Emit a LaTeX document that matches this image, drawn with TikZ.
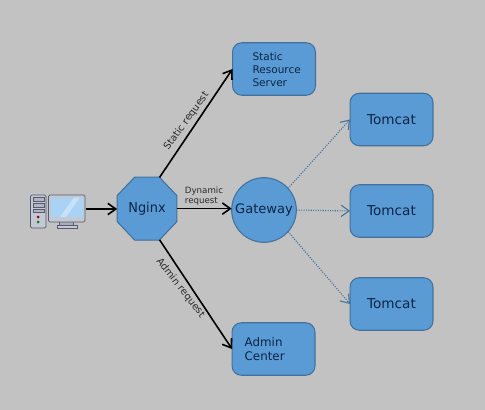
\documentclass[tikz,border=0pt]{standalone}
\usepackage{fontspec}
\setmainfont{DejaVu Sans}
\usetikzlibrary{shapes.geometric,arrows.meta}
\definecolor{bgc}{HTML}{C2C2C2}
\definecolor{fillc}{HTML}{5B9BD5}
\definecolor{edgec}{HTML}{41719C}
\definecolor{inkc}{HTML}{0B2545}
\definecolor{labelc}{HTML}{2A2A2A}
\definecolor{pcline}{HTML}{555A6E}
\definecolor{pcface}{HTML}{C4C8D4}
\definecolor{screenc}{HTML}{A9D3F5}
\tikzset{
  shapebase/.style={draw=edgec,fill=fillc,line width=0.8pt,text=inkc,outer sep=0pt,inner sep=0pt},
  srv/.style={shapebase,rectangle,rounded corners=7pt,minimum width=62.2pt,minimum height=39.4pt},
  tomcatbox/.style={srv,font=\fontsize{10.2}{12}\selectfont},
  octa/.style={shapebase,regular polygon,regular polygon sides=8,minimum size=48.4pt,yscale=1.055,transform shape,font=\fontsize{9.7}{11}\selectfont},
  gate/.style={shapebase,circle,minimum size=48.5pt,font=\fontsize{9.8}{11}\selectfont},
  solidarrow/.style={black,line width=1.2pt,-{Straight Barb[length=6pt,width=8.5pt]}},
  dotarrow/.style={edgec,line width=0.8pt,densely dotted,-{Straight Barb[length=6pt,width=8.5pt]}},
  edgelabel/.style={text=labelc,inner sep=0pt,font=\fontsize{7.4}{9}\selectfont},
  pcpart/.style={draw=pcline,line width=0.6pt,fill=pcface}
}
\begin{document}
\begin{tikzpicture}[x=0.75pt,y=-0.75pt]
\fill[bgc] (0,0) rectangle (485,410);
\useasboundingbox (0,0) rectangle (485,410);

% computer
\draw[pcpart,rounded corners=1pt] (30.5,195) rectangle (46,228);
\foreach \yy in {197.5,203.5,209}{\draw[pcpart,fill=pcline!45] (33,\yy) rectangle (44,\yy+3.5);}
\fill[red!60!black] (38.2,217) circle (1.5);
\fill[green!50!black] (38.2,222) circle (1.5);
\draw[pcpart,fill=pcline!50] (59,221) rectangle (73,225);
\draw[pcpart] (57,225.3) rectangle (77,228);
\draw[pcpart,rounded corners=1pt] (48.5,195) rectangle (85,222);
\fill[screenc] (50.5,197.5) rectangle (83,217);
\fill[white,opacity=.35] (60,217) -- (74,197.5) -- (80,197.5) -- (66,217) -- cycle;
\coordinate (pc) at (85.5,209);

% nodes
\node[octa] (nginx) at (147,208.6) {Nginx};
\node[gate] (gateway) at (264,210) {Gateway\hspace{2pt}};
\node[srv,align=left,text width=62.2pt,font=\fontsize{7.9}{9.4}\selectfont] (static) at (274,69) {\vphantom{l}\\[-8.5pt]\hspace*{15pt}Static\\\hspace*{15pt}Resource\\\hspace*{15pt}Server};
\node[tomcatbox] (tomcatA) at (391.5,119.5) {Tomcat\hspace{2.5pt}};
\node[tomcatbox] (tomcatB) at (391.5,211) {Tomcat\hspace{2.5pt}};
\node[tomcatbox] (tomcatC) at (391.5,304) {Tomcat\hspace{2.5pt}};
\node[srv,align=left,text width=62.2pt,font=\fontsize{8.9}{10.5}\selectfont] (admin) at (273.5,349) {\hspace*{9.5pt}Admin\\\hspace*{9.5pt}Center};

% connectors
\draw[solidarrow] (pc) -- (nginx.west |- pc);
\draw[solidarrow] (nginx.67.5) -- (static.west);
\draw[solidarrow] (nginx.-67.5) -- (admin.west);
\draw[solidarrow] (nginx.east) -- (nginx.east -| gateway.west);
\draw[dotarrow] (gateway.42) -- (tomcatA.west);
\draw[dotarrow] (gateway.east) -- (tomcatB.west);
\draw[dotarrow] (gateway.-42) -- (tomcatC.west);

% edge labels
\node[edgelabel,rotate=54] (lblstatic) at (186.5,121) {Static request};
\node[edgelabel,rotate=-52] (lbladmin) at (180.5,288) {Admin request};
\node[edgelabel,align=left,font=\fontsize{6.5}{7.9}\selectfont] (lbldyn) at (204,196) {Dynamic\\request};
\end{tikzpicture}
\end{document}
